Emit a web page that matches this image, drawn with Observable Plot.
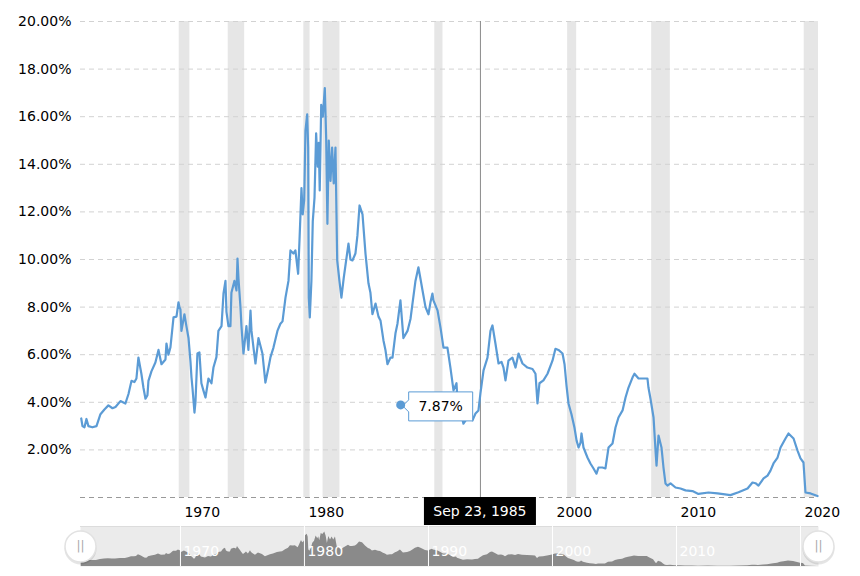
<!DOCTYPE html>
<html>
<head>
<meta charset="utf-8">
<script src="https://cdn.jsdelivr.net/npm/d3@7"></script>
<script src="https://cdn.jsdelivr.net/npm/@observablehq/plot@0.6"></script>
<style>
  html, body { margin: 0; padding: 0; background: #fff; }
  #chart { position: relative; width: 860px; height: 576px; font-family: "DejaVu Sans", Verdana, sans-serif; }
  #chart svg { display: block; }
</style>
</head>
<body>
<div id="chart"></div>
<script>
// ---- Data (decimal years and 1-year treasury rate, %) ----
const years = [
  1962.00,1962.10,1962.26,1962.42,1962.58,1962.90,1963.23,1963.55,1963.87,1964.19,1964.52,1964.76,
  1965.16,1965.56,1965.81,1966.05,1966.29,1966.45,1966.61,1966.85,1967.02,1967.18,1967.34,1967.42,
  1967.66,1967.98,1968.23,1968.47,1968.79,1968.87,1969.03,1969.19,1969.44,1969.68,1969.84,1969.92,
  1970.00,1970.08,1970.32,1970.48,1970.65,1970.81,1970.89,1970.97,1971.13,1971.21,1971.37,1971.53,
  1971.69,1971.85,1972.02,1972.26,1972.50,1972.66,1972.90,1973.06,1973.31,1973.47,1973.63,1973.71,
  1973.87,1974.03,1974.11,1974.35,1974.52,1974.60,1974.68,1974.84,1974.92,1975.08,1975.24,1975.32,
  1975.48,1975.65,1975.73,1975.89,1976.05,1976.29,1976.61,1976.85,1977.10,1977.26,1977.50,1977.82,
  1978.06,1978.23,1978.47,1978.71,1978.87,1979.11,
  1979.27,1979.49,1979.60,1979.76,1979.86,1979.98,1980.08,1980.22,1980.30,1980.35,1980.43,1980.56,
  1980.67,1980.81,1980.94,1981.07,1981.15,1981.23,1981.35,1981.48,1981.64,1981.75,1981.85,1981.96,
  1982.10,1982.23,1982.36,1982.50,1982.64,1982.82,1982.98,1983.17,
  1983.55,
  1983.71,1983.87,1984.11,1984.27,1984.44,1984.68,1984.92,1985.16,1985.32,1985.48,1985.73,1985.97,
  1986.13,1986.37,1986.53,1986.69,1986.94,1987.10,1987.34,1987.50,1987.74,1987.98,1988.31,1988.55,
  1988.71,1988.95,1989.19,1989.35,1989.52,1989.76,1990.00,1990.16,1990.32,1990.40,1990.73,1990.97,
  1991.21,1991.53,1991.77,1992.02,1992.26,1992.34,1992.58,1992.82,1993.15,1993.55,1993.79,1994.03,
  1994.19,1994.44,1994.76,1995.00,1995.16,1995.40,1995.65,1995.89,1996.05,1996.21,1996.45,1996.77,
  1997.02,1997.26,1997.58,1997.98,1998.39,1998.63,1998.79,1998.95,1999.27,1999.60,2000.00,2000.24,
  2000.48,2000.81,2000.97,2001.13,2001.29,2001.53,2001.77,2001.94,2002.10,2002.26,2002.34,2002.50,
  2002.82,2003.06,2003.31,2003.55,2003.71,2004.03,2004.27,2004.52,2004.84,2005.08,2005.32,2005.65,
  2005.89,2006.13,2006.45,2006.61,2006.94,2007.34,2007.66,2007.74,2007.90,2008.15,2008.31,2008.39,
  2008.55,2008.79,2008.95,2009.11,2009.27,2009.52,2009.92,2010.32,2010.73,2011.29,2011.77,2012.58,
  2013.31,2014.35,2015.00,2015.73,2016.13,2016.37,2016.61,2017.02,2017.34,2017.58,2017.82,2018.15,
  2018.39,2018.79,2019.03,2019.44,2019.76,2020.00,2020.24,2020.40,2020.81,2021.37
];
const rates = [
  3.32,3.00,2.95,3.30,3.00,2.95,3.00,3.50,3.70,3.87,3.75,3.80,
  4.05,3.95,4.35,4.90,4.85,5.00,5.88,5.20,4.60,4.15,4.30,4.90,
  5.30,5.67,6.20,5.60,5.80,6.47,6.00,6.30,7.57,7.60,8.20,8.00,
  7.90,7.00,7.70,7.20,6.70,5.70,5.05,4.60,3.57,4.00,6.05,6.10,
  4.80,4.50,4.20,5.00,4.80,5.46,5.90,7.00,7.20,8.57,9.10,7.80,
  7.20,7.20,8.60,9.10,8.70,10.04,9.20,8.00,7.20,6.05,6.80,7.20,
  6.20,7.85,7.00,6.30,5.63,6.70,6.05,4.83,5.46,5.90,6.30,7.00,
  7.30,7.40,8.40,9.10,10.38,10.25,
  10.38,9.40,10.80,13.00,11.90,12.50,15.40,16.10,14.70,8.40,7.57,9.10,
  11.60,12.60,15.30,13.90,14.90,12.90,16.50,16.00,17.20,15.10,11.50,15.00,
  13.30,14.70,13.20,14.70,9.96,9.10,8.40,9.24,
  10.67,
  10.00,9.96,10.25,11.00,12.27,11.90,10.25,9.00,8.60,7.70,8.15,7.60,
  7.44,6.60,6.20,5.60,5.88,5.88,6.90,7.30,8.28,6.70,7.00,7.50,
  8.15,9.10,9.67,9.20,8.70,8.00,7.70,8.20,8.57,8.28,7.86,7.14,
  6.30,6.30,5.46,4.50,4.80,4.07,3.66,3.10,3.36,3.24,3.53,3.66,
  4.37,5.34,5.88,7.00,7.23,6.47,5.63,5.70,5.46,4.92,5.75,5.88,
  5.46,6.05,5.63,5.46,5.40,5.20,3.95,4.80,4.92,5.20,5.75,6.25,
  6.20,6.05,5.60,4.70,3.95,3.50,2.94,2.40,2.10,2.30,2.69,2.10,
  1.68,1.43,1.22,1.00,1.26,1.26,1.22,2.10,2.27,2.94,3.36,3.66,
  4.20,4.62,5.04,5.20,5.00,5.00,5.00,4.62,4.16,3.36,1.97,1.34,
  2.60,2.10,1.26,0.59,0.50,0.59,0.42,0.38,0.30,0.27,0.15,0.21,
  0.17,0.10,0.22,0.38,0.63,0.60,0.50,0.80,0.92,1.13,1.43,1.68,
  2.10,2.48,2.69,2.48,1.97,1.64,1.47,0.21,0.17,0.06
];
// Recession periods (start, end as decimal years)
const recessionStart = [1969.90, 1973.85, 1979.95, 1981.50, 1990.51, 2001.22, 2008.00, 2020.30];
const recessionEnd   = [1970.76, 1975.18, 1980.45, 1982.86, 1991.17, 2001.95, 2009.50, 2021.45];
const yTicks = [2, 4, 6, 8, 10, 12, 14, 16, 18, 20];
const decadeTicks = [1970, 1980, 1990, 2000, 2010, 2020];
const navLabelYears = [1970, 1980, 1990, 2000, 2010];
const domainYears = [1961.94, 2021.45];
const crosshairYear = 1994.19;
const crosshairLabel = "Sep 23, 1985";
const tipYear = 1987.80;
const tipValue = 3.87;
const tipLabel = "7.87%";

// ---- helpers ----
const toDate = (y) => {
  const yr = Math.floor(y);
  const s = Date.UTC(yr, 0, 1), e = Date.UTC(yr + 1, 0, 1);
  return new Date(s + (y - yr) * (e - s));
};
const n = Math.min(years.length, rates.length);
const data = years.slice(0, n).map((y, i) => ({date: toDate(y), rate: rates[i]}));
const recessions = recessionStart.map((s, i) => ({start: toDate(s), end: toDate(recessionEnd[i])}));
const xDomain = domainYears.map(toDate);
const decades = decadeTicks.map(toDate);
const navDecades = navLabelYears.map(toDate);
const yearText = (d) => String(d.getUTCFullYear());

const BLUE = "#5b9bd5";
const FONT = "DejaVu Sans, Verdana, sans-serif";

// Annotation: date label box under crosshair
function dateBox(index, scales, values, dims) {
  const cx = scales.x(toDate(crosshairYear));
  const top = dims.height - dims.marginBottom;
  const g = d3.create("svg:g");
  g.append("rect").attr("x", cx - 56).attr("y", top).attr("width", 112).attr("height", 28).attr("fill", "#000");
  g.append("text").attr("x", cx).attr("y", top + 14).attr("dy", "0.35em")
    .attr("text-anchor", "middle").attr("fill", "#fff").attr("font-size", 14).attr("font-family", FONT)
    .text(crosshairLabel);
  return g.node();
}
// Annotation: tooltip bubble
function tooltip(index, scales) {
  const px = scales.x(toDate(tipYear)), py = scales.y(tipValue);
  const L = px + 8, R = px + 72, T = py - 13, B = py + 16, M = py + 1;
  const g = d3.create("svg:g");
  g.append("path")
    .attr("d", `M${L},${T}H${R}V${B}H${L}V${M + 6}L${L - 6},${M}L${L},${M - 6}Z`)
    .attr("fill", "#fff").attr("stroke", BLUE).attr("stroke-width", 1);
  g.append("circle").attr("cx", px).attr("cy", py).attr("r", 4.5).attr("fill", BLUE);
  g.append("text").attr("x", (L + R) / 2).attr("y", M).attr("dy", "0.35em")
    .attr("text-anchor", "middle").attr("fill", "#000").attr("font-size", 14).attr("font-family", FONT)
    .text(tipLabel);
  return g.node();
}

const main = Plot.plot({
  width: 860,
  height: 525,
  marginTop: 21,
  marginBottom: 28,
  marginLeft: 80,
  marginRight: 42,
  style: {fontFamily: FONT, fontSize: "14px", background: "#fff", overflow: "visible", color: "#000"},
  x: {type: "utc", domain: xDomain, axis: null},
  y: {domain: [0, 20], axis: null},
  marks: [
    Plot.rectY(recessions, {x1: "start", x2: "end", y1: 0, y2: 20, fill: "#e6e6e6"}),
    Plot.ruleY(yTicks, {stroke: "#d2d2d2", strokeDasharray: "5,4"}),
    Plot.ruleY([0], {stroke: "#999", strokeDasharray: "5,4"}),
    Plot.axisY(yTicks, {tickSize: 0, tickPadding: 9, tickFormat: (d) => d.toFixed(2) + "%", fill: "#000", label: null}),
    Plot.text(decades, {x: (d) => d, y: 0, dy: 15, dx: 4, textAnchor: "start", text: yearText, fill: "#000", fontSize: 14}),
    Plot.ruleX([toDate(crosshairYear)], {y1: 0, y2: 20, stroke: "#8a8a8a", strokeWidth: 1}),
    Plot.line(data, {x: "date", y: "rate", stroke: BLUE, strokeWidth: 2.2, strokeLinejoin: "round"}),
    dateBox,
    tooltip
  ]
});

const nav = Plot.plot({
  width: 860,
  height: 51,
  marginTop: 1,
  marginBottom: 10,
  marginLeft: 80,
  marginRight: 42,
  style: {fontFamily: FONT, fontSize: "14px", background: "transparent", overflow: "visible"},
  x: {type: "utc", domain: xDomain, axis: null},
  y: {domain: [0, 20], axis: null},
  marks: [
    Plot.frame({fill: "#ebebeb", stroke: null}),
    Plot.ruleY([20], {stroke: "#dcdcdc"}),
    Plot.areaY(data, {x: "date", y: "rate", fill: "#8a8a8a"}),
    Plot.ruleX(decades, {stroke: "#fff", strokeWidth: 1}),
    Plot.text(navDecades, {x: (d) => d, frameAnchor: "bottom", dy: -11, dx: 3, textAnchor: "start", text: yearText, fill: "#fff", fontSize: 14}),
    Plot.dot(xDomain, {x: (d) => d, frameAnchor: "middle", dy: 2, r: 16, fill: "#000", fillOpacity: 0.10, stroke: null}),
    Plot.dot(xDomain, {x: (d) => d, frameAnchor: "middle", r: 15.5, fill: "#fff", stroke: "#e2e2e2"}),
    Plot.text(xDomain, {x: (d) => d, frameAnchor: "middle", text: () => "||", fill: "#aaa", fontSize: 12})
  ]
});

const chart = document.getElementById("chart");
chart.appendChild(main);
chart.appendChild(nav);
</script>
</body>
</html>
